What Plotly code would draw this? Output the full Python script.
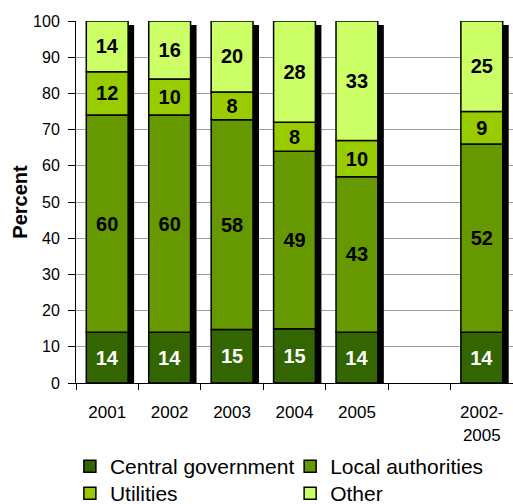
import numpy as np
import plotly.graph_objects as go

categories = ["2001", "2002", "2003", "2004", "2005", " ", "2002-<br>2005"]
central_government = [14, 14, 14.8, 15, 14, None, 14]
local_authorities = [60, 60, 57.9, 49, 43, None, 52]
utilities = [12, 10, 7.7, 8, 10, None, 9]
other = [14, 16, 19.6, 28, 33, None, 25]

series = [
    ("Central government", central_government, "#336600", "white"),
    ("Local authorities", local_authorities, "#669900", "black"),
    ("Utilities", utilities, "#99CC00", "black"),
    ("Other", other, "#CCFF66", "black"),
]

FONT = "Liberation Sans, Arial, sans-serif"
BAR_W = 0.67
SHADOW_DX = 0.096
SHADOW_DY = 1.1

arr = np.array([[np.nan if v is None else v for v in s[1]] for s in series], dtype=float)
totals = np.nansum(arr, axis=0)
totals = np.where(np.isnan(arr).all(axis=0), np.nan, totals)
bases = np.vstack([np.zeros(arr.shape[1]), np.cumsum(np.nan_to_num(arr), axis=0)[:-1]])

fig = go.Figure()

# shadow
fig.add_trace(go.Bar(
    x=categories, y=[None if np.isnan(t) else t - SHADOW_DY for t in totals],
    base=0, width=BAR_W, offset=-BAR_W / 2 + SHADOW_DX,
    marker=dict(color="black", line=dict(width=0)),
    showlegend=False, hoverinfo="skip",
))

legend_ids = ["legend", "legend2", "legend3", "legend4"]
for i, (name, vals, color, tcolor) in enumerate(series):
    fig.add_trace(go.Bar(
        name=name, x=categories, y=vals,
        base=[None if v is None else b for v, b in zip(vals, bases[i])],
        width=BAR_W, offset=-BAR_W / 2,
        marker=dict(color=color, line=dict(color="black", width=1.5)),
        text=["" if v is None else f"{v:.0f}" for v in vals],
        textposition="inside", insidetextanchor="middle", textangle=0,
        constraintext="none",
        textfont=dict(family=FONT, size=20, color=tcolor, weight="bold"),
        legend=legend_ids[i],
    ))

leg_common = dict(font=dict(size=21, family=FONT), itemwidth=30, yanchor="top",
                  xanchor="left", bgcolor="rgba(0,0,0,0)")
row1, row2 = -0.174, -0.249
col1, col2 = -0.014, 0.490

fig.update_layout(
    width=513, height=504,
    margin=dict(l=76, r=0, t=21, b=121, autoexpand=False),
    barmode="overlay",
    plot_bgcolor="white", paper_bgcolor="white",
    font=dict(family=FONT, color="black"),
    legend=dict(x=col1, y=row1, **leg_common),
    legend2=dict(x=col2, y=row1, **leg_common),
    legend3=dict(x=col1, y=row2, **leg_common),
    legend4=dict(x=col2, y=row2, **leg_common),
    xaxis=dict(
        type="category", showline=True, linecolor="black", linewidth=1,
        ticks="outside", tickson="boundaries", ticklen=6, tickcolor="black",
        tickfont=dict(size=17, family=FONT), ticklabelstandoff=14,
        showgrid=False, automargin=False,
    ),
    yaxis=dict(
        range=[0, 100], dtick=10, showline=True, linecolor="black", linewidth=1,
        ticks="outside", ticklen=7, tickcolor="black",
        tickfont=dict(size=16, family=FONT), ticklabelstandoff=5,
        showgrid=True, gridcolor="#a0a0a0", gridwidth=1, zeroline=False,
        automargin=False,
        title=dict(text="<b>Percent</b>", font=dict(size=20, family=FONT), standoff=0),
    ),
)

fig.write_html(
    "out.html",
    config={"displayModeBar": False},
    post_script="document.body.style.margin='0';document.body.style.overflow='hidden';",
)
